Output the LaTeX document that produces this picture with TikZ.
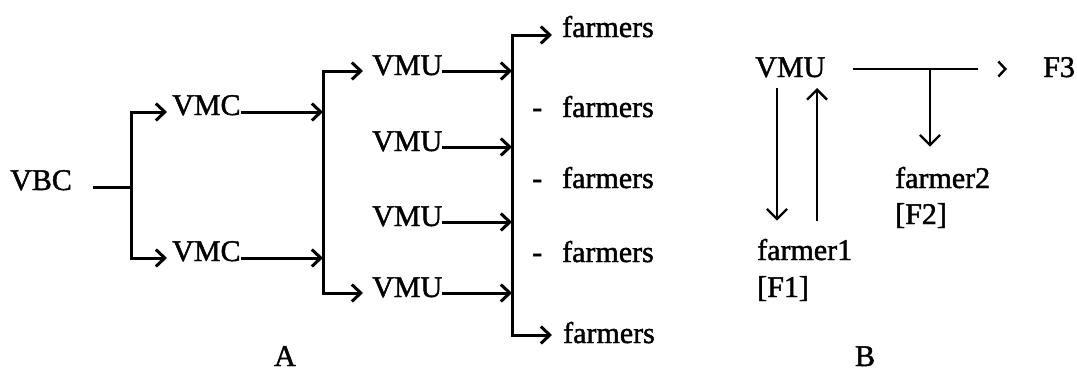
\documentclass[tikz,border=0pt]{standalone}
\usepackage{fontspec}
\setmainfont{Liberation Serif}[FakeBold=1.5]
\usetikzlibrary{arrows.meta,calc}
\begin{document}
\begin{tikzpicture}[x=1pt,y=-1pt,
  lbl/.style={inner sep=0pt,anchor=base west,font=\fontsize{30}{36}\selectfont},
  lnA/.style={line width=3pt},
  arrA/.style={lnA,-{Straight Barb[length=9pt,width=17pt]}},
  lnB/.style={line width=2.4pt},
  arrB/.style={lnB,-{Straight Barb[length=10pt,width=20pt]}}]
\useasboundingbox (0,0) rectangle (1077,372);

% ---------- Part A ----------
\node[lbl] (vbc)  at (10,190)  {VBC};
\node[lbl] (vmc1) at (172,115) {VMC};
\node[lbl] (vmc2) at (172,261) {VMC};
\node[lbl] (vmu1) at (372,75)  {VMU};
\node[lbl] (vmu2) at (372,151) {VMU};
\node[lbl] (vmu3) at (372,226) {VMU};
\node[lbl] (vmu4) at (372,297) {VMU};
\node[lbl] (fa1)  at (562,37)  {farmers};
\node[lbl] (fa2)  at (532,117) {-\hspace{20pt}farmers};
\node[lbl] (fa3)  at (532,188) {-\hspace{20pt}farmers};
\node[lbl] (fa4)  at (532,262) {-\hspace{20pt}farmers};
\node[lbl] (fa5)  at (563,343) {farmers};
\node[lbl,anchor=base] (labA) at (285,366) {A};

\coordinate (j1) at (131,187);
\coordinate (j2) at (323,185);
\coordinate (j3) at (512,185);

\path ($(vbc.base east)+(21,-3)$) coordinate (vbco);
\path ($(vmc1.base east)+(0,-3)$) coordinate (vmc1o);
\path ($(vmc2.base east)+(0,-3)$) coordinate (vmc2o);
\path ($(vmu1.base east)+(0,-4)$) coordinate (vmu1o);
\path ($(vmu2.base east)+(0,-4)$) coordinate (vmu2o);
\path ($(vmu3.base east)+(0,-4)$) coordinate (vmu3o);
\path ($(vmu4.base east)+(0,-4)$) coordinate (vmu4o);

\draw[lnA] (vbco) -- (j1);
\draw[arrA] (j1) |- ($(vmc1.base west)+(-5,-3)$);
\draw[arrA] (j1) |- ($(vmc2.base west)+(-5,-3)$);

\draw[arrA] (vmc1o) -- (vmc1o -| j2);
\draw[arrA] (vmc2o) -- (vmc2o -| j2);
\draw[arrA] (j2) |- ($(vmu1.base west)+(-9,-4)$);
\draw[arrA] (j2) |- ($(vmu4.base west)+(-9,-4)$);

\draw[arrA] (vmu1o) -- (vmu1o -| j3);
\draw[arrA] (vmu2o) -- (vmu2o -| j3);
\draw[arrA] (vmu3o) -- (vmu3o -| j3);
\draw[arrA] (vmu4o) -- (vmu4o -| j3);
\draw[arrA] (j3) |- ($(fa1.base west)+(-10,-2)$);
\draw[arrA] (j3) |- ($(fa5.base west)+(-11,-8)$);

% ---------- Part B ----------
\node[lbl] (vmub) at (755,77)  {VMU};
\node[lbl] (f3)   at (1043,77) {F3};
\node[lbl] (far2) at (895,188) {farmer2};
\node[lbl] (far2l) at (895,224) {[F2]};
\node[lbl] (far1) at (757,260) {farmer1};
\node[lbl] (far1l) at (757,297) {[F1]};
\node[lbl,anchor=base] (labB) at (865,366) {B};

\path ($(vmub.base east)+(28,-8)$) coordinate (bo);
\coordinate (j4) at (930,69);
\draw[lnB,dash pattern=on 125pt off 80pt,-{Straight Barb[length=7pt,width=15pt]}]
  (bo) -- ($(f3.base west)+(-36,-8)$);
\draw[arrB] (j4) -- ($(far2.north west)+(35,-20)$ |- far2.north);
\draw[arrB] ($(vmub.base west)+(22,11)$) -- ($(far1.north west)+(20,-18)$);
\draw[arrB] ($(far1.north west)+(60,-18)$) -- ($(vmub.base west)+(62,11)$);
\end{tikzpicture}
\end{document}
